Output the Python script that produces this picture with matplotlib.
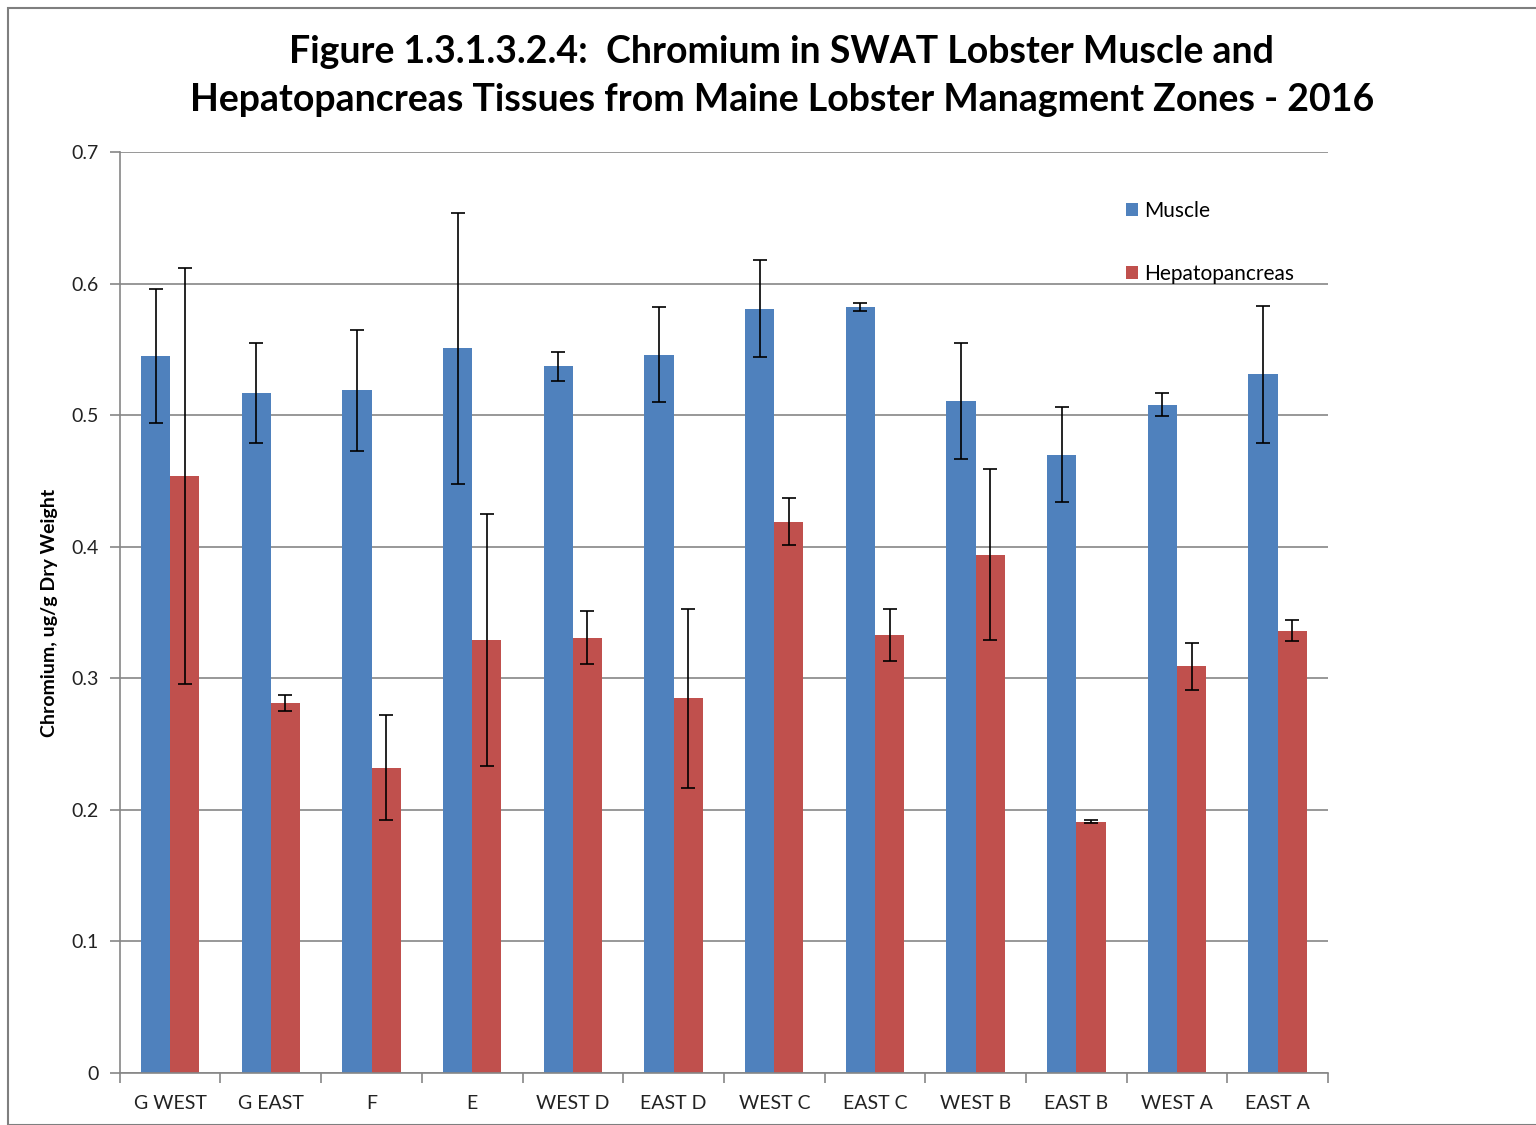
import numpy as np
import matplotlib.pyplot as plt
from matplotlib.patches import Rectangle

zones = ["G WEST", "G EAST", "F", "E", "WEST D", "EAST D",
         "WEST C", "EAST C", "WEST B", "EAST B", "WEST A", "EAST A"]
muscle = [0.545, 0.517, 0.519, 0.551, 0.537, 0.546,
          0.581, 0.582, 0.511, 0.470, 0.508, 0.531]
muscle_err = [0.051, 0.038, 0.046, 0.103, 0.011, 0.036,
              0.037, 0.003, 0.044, 0.036, 0.009, 0.052]
hepato = [0.454, 0.281, 0.232, 0.329, 0.331, 0.285,
          0.419, 0.333, 0.394, 0.191, 0.309, 0.336]
hepato_err = [0.158, 0.006, 0.040, 0.096, 0.020, 0.068,
              0.018, 0.020, 0.065, 0.001, 0.018, 0.008]

plt.rcParams['font.family'] = ['Lato', 'DejaVu Sans']

fig = plt.figure(figsize=(15.36, 11.25), dpi=100)
ax = fig.add_axes([0.078, 0.0462, 0.7866, 0.8187])

x = np.arange(len(zones))
w = 0.29
ekw = dict(ecolor='black', elinewidth=1.2, capsize=5, capthick=1.2)
ax.bar(x - w / 2, muscle, w, color='#4F81BD', label='Muscle',
       yerr=muscle_err, error_kw=ekw, zorder=2)
ax.bar(x + w / 2, hepato, w, color='#C0504D', label='Hepatopancreas',
       yerr=hepato_err, error_kw=ekw, zorder=2)

ax.set_xlim(-0.5, len(zones) - 0.5)
ax.set_ylim(0, 0.7)
ax.set_yticks(np.arange(0, 0.71, 0.1))
ax.set_yticklabels(['0'] + [f'{v:.1f}' for v in np.arange(0.1, 0.71, 0.1)])
ax.yaxis.grid(True, color='#868686', linewidth=1.2, zorder=0)
ax.set_axisbelow(True)

ax.set_xticks(x)
ax.set_xticklabels(zones)
ax.set_xticks(np.arange(-0.5, len(zones)), minor=True)
ax.tick_params(axis='x', which='major', length=0, pad=16, labelsize=14, labelcolor='#222222')
ax.tick_params(axis='x', which='minor', length=7, color='#868686', width=1.2)
ax.tick_params(axis='y', length=7, color='#868686', width=1.2, labelsize=14,
               labelcolor='#222222', pad=8)

for s in ['top', 'right']:
    ax.spines[s].set_visible(False)
for s in ['left', 'bottom']:
    ax.spines[s].set_color('#868686')
    ax.spines[s].set_linewidth(1.2)

ax.set_ylabel('Chromium, ug/g Dry Weight', fontsize=14, fontweight='bold', labelpad=10)

fig.text(0.509, 0.969, 'Figure 1.3.1.3.2.4:  Chromium in SWAT Lobster Muscle and\n'
         'Hepatopancreas Tissues from Maine Lobster Managment Zones - 2016',
         ha='center', va='top', fontsize=27, fontweight='bold', linespacing=1.52)

ax.legend(loc='upper left', bbox_to_anchor=(0.817, 0.967), frameon=False,
          fontsize=15, handlelength=0.6, handleheight=0.6, handletextpad=0.3,
          labelspacing=2.05)

fig.patches.append(Rectangle((0.005, 0.0), 1.2, 0.993, transform=fig.transFigure,
                             fill=False, edgecolor='#7f7f7f', linewidth=1.5))

fig.savefig('out.png', dpi=100)
